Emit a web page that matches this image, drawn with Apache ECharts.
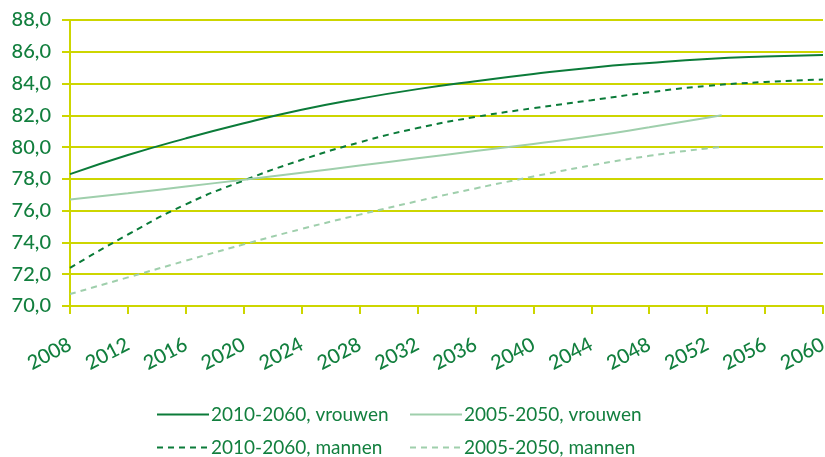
<!DOCTYPE html>
<html><head><meta charset="utf-8">
<script src="https://cdn.jsdelivr.net/npm/echarts@6/dist/echarts.min.js"></script>
<style>html,body{margin:0;padding:0;background:#fff}#c{width:825px;height:457px}</style>
</head><body><div id="c"></div>
<script>
var yearsNew = [2008,2012,2016,2020,2024,2028,2032,2036,2040,2044,2048,2052,2056,2060];
var vrouwenNew = [78.3,79.5,80.55,81.5,82.35,83.05,83.65,84.15,84.6,85.0,85.3,85.55,85.7,85.8];
var mannenNew  = [72.4,74.5,76.4,77.9,79.2,80.3,81.2,81.9,82.45,82.95,83.45,83.85,84.1,84.25];
var yearsOld = [2008,2012,2016,2020,2024,2028,2032,2036,2040,2044,2048,2052,2053];
var vrouwenOld = [76.7,77.1,77.52,77.95,78.39,78.84,79.3,79.75,80.2,80.68,81.25,81.85,82.0];
var mannenOld  = [70.75,71.8,72.85,73.88,74.85,75.75,76.6,77.4,78.15,78.85,79.45,79.92,80.0];
var yTicks = {min:70, max:88, step:2};
var xTicks = {min:2008, max:2060, step:4};
var names = ['2010-2060, vrouwen','2010-2060, mannen','2005-2050, vrouwen','2005-2050, mannen'];

function pairs(xs, ys){ return xs.map(function(x,i){return [x, ys[i]];}); }
var dark = '#0b7b39', light = '#9fcfac', grid = '#cdd600', txt = '#127f3e';
var font = 'Lato';
var chart = echarts.init(document.getElementById('c'));
function ser(name, xs, ys, color, type){
  return {name:name, type:'line', data:pairs(xs,ys), smooth:true, symbol:'none',
    lineStyle:{color:color, width:2, type:type}, itemStyle:{color:color}};
}
function leg(name, left, top){
  return {data:[name], left:left, top:top, itemWidth:52, itemHeight:14,
    itemStyle:{opacity:0},
    textStyle:{color:txt, fontFamily:font, fontSize:19, padding:[0,0,0,-3]}};
}
chart.setOption({
  animation:false,
  grid:{left:70, right:2, top:20, bottom:151, containLabel:false, outerBoundsMode:'none'},
  xAxis:{type:'value', min:xTicks.min, max:xTicks.max, interval:xTicks.step,
    axisLine:{show:true, lineStyle:{color:grid, width:2}},
    axisTick:{show:true, length:8, lineStyle:{color:grid, width:2}},
    splitLine:{show:false},
    axisLabel:{rotate:28, color:txt, fontFamily:font, fontSize:20, fontWeight:500, margin:37, formatter:function(v){return String(v);}}
  },
  yAxis:{type:'value', min:yTicks.min, max:yTicks.max, interval:yTicks.step,
    axisLine:{show:true, lineStyle:{color:grid, width:2}},
    axisTick:{show:true, length:8, lineStyle:{color:grid, width:2}},
    splitLine:{show:true, lineStyle:{color:grid, width:2}},
    axisLabel:{color:txt, fontFamily:font, fontSize:20, fontWeight:500, margin:19, formatter:function(v){return v.toFixed(1).replace('.',',');}}
  },
  legend:[
    leg(names[0], 151, 400),
    leg(names[1], 151, 433),
    leg(names[2], 404, 400),
    leg(names[3], 404, 433)
  ],
  series:[
    ser(names[0], yearsNew, vrouwenNew, dark, 'solid'),
    ser(names[1], yearsNew, mannenNew, dark, [6,5]),
    ser(names[2], yearsOld, vrouwenOld, light, 'solid'),
    ser(names[3], yearsOld, mannenOld, light, [6,5])
  ]
});
</script></body></html>
